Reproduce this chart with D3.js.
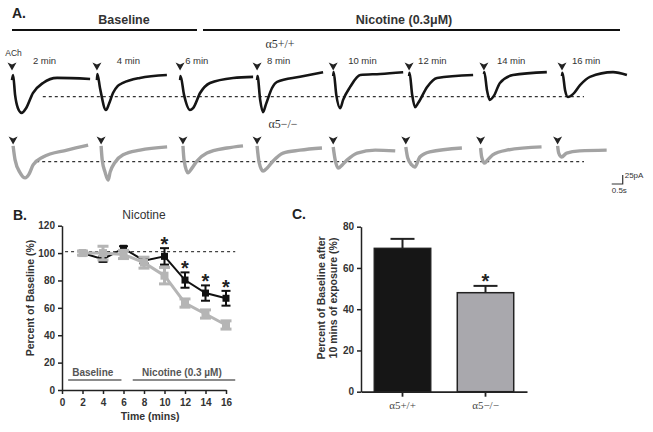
<!DOCTYPE html>
<html><head><meta charset="utf-8">
<script src="https://cdn.jsdelivr.net/npm/d3@7"></script>
<style>body{margin:0;background:#fff}svg{display:block}text{font-family:"Liberation Sans",Arial,sans-serif}</style>
</head><body>
<svg id="c" width="653" height="432"></svg>
<script>
// ---------- Panel A data (time in s relative to sweep start, current in pA) ----------
const sweepLabels = ["2 min","4 min","6 min","8 min","10 min","12 min","14 min","16 min"];
const sweepStartWT = [0, 3.86, 7.64, 11.14, 14.6, 18.05, 21.45, 25.0];
const sweepStartKO = [0.05, 4.05, 7.77, 11.14, 14.6, 17.9, 21.3, 24.8];
const wtTraces = [
  [[0,-3],[0.05,11],[0.14,-44],[0.27,-81],[0.44,-94],[0.64,-81],[0.95,-39],[1.41,-11],[2.05,3],[3.55,0]],
  [[0,-3],[0.02,14],[0.14,-25],[0.41,-86],[0.55,-69],[0.73,-39],[0.95,-19],[1.18,-11],[1.95,3],[3.18,11]],
  [[0,-3],[0.02,8],[0.18,-44],[0.45,-86],[0.59,-81],[0.91,-39],[1.36,-11],[2.41,3],[3.32,6]],
  [[0,-3],[0.02,8],[0.14,-58],[0.27,-92],[0.41,-69],[0.68,-25],[0.91,-8],[1.95,6],[3.0,19]],
  [[0,8],[0.02,19],[0.14,-44],[0.32,-81],[0.45,-58],[0.77,-22],[1.23,11],[2.14,14],[3.18,19]],
  [[0,8],[0.02,17],[0.14,-44],[0.27,-78],[0.41,-67],[0.82,-22],[1.27,3],[2.91,11]],
  [[0,14],[0.02,19],[0.14,-31],[0.27,-58],[0.45,-47],[0.73,-11],[1.32,11],[2.86,19]],
  [[0,8],[0.02,17],[0.14,-31],[0.27,-50],[0.5,-42],[0.82,-17],[1.27,6],[2.32,19],[2.95,11]]
];
const koTraces = [
  [[0,6],[0.09,-33],[0.32,-69],[0.55,-83],[0.73,-72],[0.91,-47],[1.36,-25],[2.45,-6],[3.41,8]],
  [[0,6],[0.05,-33],[0.18,-67],[0.32,-89],[0.41,-67],[0.64,-39],[1.0,-19],[1.77,-6],[3.0,3]],
  [[0,6],[0.05,-33],[0.23,-69],[0.41,-56],[0.64,-36],[1.09,-14],[2.0,0],[2.73,6]],
  [[0,6],[0.09,-39],[0.27,-64],[0.45,-56],[0.73,-36],[1.18,-14],[1.95,-6],[2.95,0]],
  [[0,3],[0.09,-33],[0.23,-56],[0.41,-47],[0.64,-33],[1.09,-14],[1.91,-6],[2.82,-8]],
  [[0,3],[0.09,-28],[0.27,-47],[0.41,-53],[0.64,-25],[1.09,-11],[2.55,0]],
  [[0,0],[0.05,-25],[0.18,-42],[0.32,-33],[0.55,-19],[1.18,-6],[2.77,3]],
  [[0,6],[0.05,-14],[0.18,-25],[0.41,-14],[1.0,-8],[2.23,-6]]
];
const wtRefLevel = -49;  // dotted reference (pA)
const koRefLevel = -38;

// ---------- Panel B data ----------
const timePoints = [2,4,6,8,10,12,14,16];
const wtMean = [100, 95.6, 103.5, 94.5, 97.6, 80.3, 70.8, 67];
const wtErr  = [1.5, 2, 1.5, 2, 6, 5.6, 5.6, 5.4];
const koMean = [100, 100, 99, 93, 83.5, 63.5, 55.5, 47.5];
const koErr  = [1.5, 5, 3, 4, 6, 3, 3, 3];
const sigPointsB = [10,12,14,16];
const xTicksB = [0,2,4,6,8,10,12,14,16];
const yTicksB = [0,20,40,60,80,100,120];

// ---------- Panel C data ----------
const groups = ["α5+/+","α5−/−"];
const barMean = [69.5, 48];
const barErr = [4.6, 3.3];
const yTicksC = [0,20,40,60,80];

const svg = d3.select("#c");
const ink = "#222";

// ================= Panel A =================
const xA = d3.scaleLinear().domain([0,28]).range([12, 628]);
const yTop = d3.scaleLinear().domain([0,-100]).range([79, 115]);
const yBot = d3.scaleLinear().domain([0,-100]).range([148, 184]);

svg.append("text").attr("x",12).attr("y",18).attr("font-size",14).attr("font-weight","bold").attr("fill",ink).text("A.");
svg.append("text").attr("x",124).attr("y",24).attr("text-anchor","middle").attr("font-size",12.5).attr("font-weight","bold").attr("fill","#333").text("Baseline");
svg.append("text").attr("x",404).attr("y",24).attr("text-anchor","middle").attr("font-size",12.5).attr("font-weight","bold").attr("fill","#333").text("Nicotine (0.3μM)");
svg.append("line").attr("x1",12).attr("x2",197).attr("y1",30).attr("y2",30).attr("stroke","#111").attr("stroke-width",2);
svg.append("line").attr("x1",203).attr("x2",620).attr("y1",30).attr("y2",30).attr("stroke","#111").attr("stroke-width",2);

svg.append("text").attr("x",280).attr("y",48).attr("text-anchor","middle").attr("font-size",12)
  .style("font-family","'Liberation Serif','Times New Roman',serif").attr("fill","#333").text("α5+/+");
svg.append("text").attr("x",283).attr("y",128).attr("text-anchor","middle").attr("font-size",12)
  .style("font-family","'Liberation Serif','Times New Roman',serif").attr("fill","#333").text("α5−/−");
svg.append("text").attr("x",13.5).attr("y",56).attr("text-anchor","middle").attr("font-size",8.5).attr("fill","#333").text("ACh");

const labelOffsets = [0.95, 0.9, 0.23, 0.45, 0.68, 0.41, 0.59, 0.45]; // s after sweep start where label begins
const arrowPath = "M-4.5,-4 L0,-2 L4.5,-4 L0,4 Z";

const traceLine = (start, yS) => d3.line()
  .x(d => xA(start + d[0])).y(d => yS(d[1])).curve(d3.curveMonotoneX);

// dotted reference lines
svg.append("line").attr("x1",xA(1.4)).attr("x2",xA(26.0)).attr("y1",yTop(wtRefLevel)).attr("y2",yTop(wtRefLevel))
  .attr("stroke","#333").attr("stroke-width",1.2).attr("stroke-dasharray","3,3");
svg.append("line").attr("x1",xA(1.1)).attr("x2",xA(26.0)).attr("y1",yBot(koRefLevel)).attr("y2",yBot(koRefLevel))
  .attr("stroke","#333").attr("stroke-width",1.2).attr("stroke-dasharray","3,3");

wtTraces.forEach((tr,i) => {
  svg.append("path").attr("d", traceLine(sweepStartWT[i], yTop)(tr))
    .attr("fill","none").attr("stroke","#151515").attr("stroke-width",2.6).attr("stroke-linejoin","round");
  svg.append("path").attr("d",arrowPath).attr("transform",`translate(${xA(sweepStartWT[i])},66.5)`).attr("fill","#222");
  svg.append("text").attr("x",xA(sweepStartWT[i]+labelOffsets[i])).attr("y",64).attr("font-size",9.5).attr("fill","#333").text(sweepLabels[i]);
});
koTraces.forEach((tr,i) => {
  svg.append("path").attr("d", traceLine(sweepStartKO[i], yBot)(tr))
    .attr("fill","none").attr("stroke","#a3a3a3").attr("stroke-width",3.4).attr("stroke-linejoin","round");
  svg.append("path").attr("d",arrowPath).attr("transform",`translate(${xA(sweepStartKO[i])},140.5)`).attr("fill","#222");
});

// scale bar: 0.5 s, 25 pA
const sbT = 27.26;
svg.append("path").attr("d",`M${xA(sbT)},${yBot(-100)} H${xA(sbT+0.5)} V${yBot(-75)}`)
  .attr("fill","none").attr("stroke","#333").attr("stroke-width",1.2);
svg.append("text").attr("x",xA(sbT+0.5)+2).attr("y",yBot(-84)).attr("font-size",8).attr("fill","#333").text("25pA");
svg.append("text").attr("x",xA(sbT)).attr("y",yBot(-100)+9).attr("font-size",8).attr("fill","#333").text("0.5s");

// ================= Panel B =================
const xB = d3.scaleLinear().domain([0,16]).range([62,226]);
const yB = d3.scaleLinear().domain([0,120]).range([390,225.7]);

svg.append("text").attr("x",13).attr("y",220).attr("font-size",14).attr("font-weight","bold").attr("fill",ink).text("B.");
svg.append("text").attr("x",144).attr("y",219).attr("text-anchor","middle").attr("font-size",12).attr("fill","#333").text("Nicotine");

const axB_y = svg.append("g").attr("transform",`translate(${xB(0)},0)`)
  .call(d3.axisLeft(yB).tickValues(yTicksB).tickSize(4).tickSizeOuter(0));
const axB_x = svg.append("g").attr("transform",`translate(0,${yB(0)})`)
  .call(d3.axisBottom(xB).tickValues(xTicksB).tickSize(4).tickSizeOuter(0));
[axB_y, axB_x].forEach(g => {
  g.selectAll("path,line").attr("stroke",ink).attr("stroke-width",1.5);
  g.selectAll("text").attr("font-size",10).attr("font-weight","bold").attr("fill","#333")
    .style("font-family","'Liberation Sans',Arial,sans-serif");
});
axB_x.selectAll("text").attr("dy","0.9em");

svg.append("text").attr("transform",`translate(34,298) rotate(-90)`).attr("text-anchor","middle")
  .attr("font-size",10.5).attr("font-weight","bold").attr("fill","#333").text("Percent of Baseline (%)");
svg.append("text").attr("x",xB(8.6)).attr("y",420).attr("text-anchor","middle")
  .attr("font-size",10.5).attr("font-weight","bold").attr("fill","#333").text("Time (mins)");

// dotted 100% line
svg.append("line").attr("x1",xB(0.3)).attr("x2",xB(16.9)).attr("y1",yB(101)).attr("y2",yB(101))
  .attr("stroke","#444").attr("stroke-width",1.3).attr("stroke-dasharray","3,3");

// baseline / nicotine bars
svg.append("line").attr("x1",xB(0.6)).attr("x2",xB(5.8)).attr("y1",yB(7.3)).attr("y2",yB(7.3)).attr("stroke","#666").attr("stroke-width",1.5);
svg.append("line").attr("x1",xB(6.9)).attr("x2",xB(16.9)).attr("y1",yB(7.3)).attr("y2",yB(7.3)).attr("stroke","#666").attr("stroke-width",1.5);
svg.append("text").attr("x",xB(3.0)).attr("y",yB(10.5)).attr("text-anchor","middle").attr("font-size",10)
  .attr("font-weight","bold").attr("fill","#555").text("Baseline");
svg.append("text").attr("x",xB(11.7)).attr("y",yB(10.5)).attr("text-anchor","middle").attr("font-size",10)
  .attr("font-weight","bold").attr("fill","#555").text("Nicotine (0.3 µM)");

function drawSeries(mean, err, color, lw, sq, cap) {
  const pts = timePoints.map((t,i)=>({t, m:mean[i], e:err[i]}));
  svg.append("path").attr("d", d3.line().x(d=>xB(d.t)).y(d=>yB(d.m))(pts))
    .attr("fill","none").attr("stroke",color).attr("stroke-width",lw);
  const g = svg.append("g");
  pts.forEach(d => {
    g.append("line").attr("x1",xB(d.t)).attr("x2",xB(d.t)).attr("y1",yB(d.m-d.e)).attr("y2",yB(d.m+d.e)).attr("stroke",color).attr("stroke-width",lw);
    [d.m-d.e, d.m+d.e].forEach(v => g.append("line").attr("x1",xB(d.t)-cap/2).attr("x2",xB(d.t)+cap/2)
      .attr("y1",yB(v)).attr("y2",yB(v)).attr("stroke",color).attr("stroke-width",lw));
    g.append("rect").attr("x",xB(d.t)-sq/2).attr("y",yB(d.m)-sq/2).attr("width",sq).attr("height",sq).attr("fill",color);
  });
}
drawSeries(wtMean, wtErr, "#111", 2, 7, 9);
drawSeries(koMean, koErr, "#b5b5b5", 3, 8, 11);

sigPointsB.forEach(t => {
  const i = timePoints.indexOf(t);
  svg.append("text").attr("x",xB(t)).attr("y",yB(wtMean[i]+wtErr[i])+3).attr("text-anchor","middle")
    .attr("font-size",20).attr("font-weight","bold").attr("fill","#222").text("*");
});

// ================= Panel C =================
const xC = d3.scaleBand().domain(groups).range([361,527]).paddingInner(0.32).paddingOuter(0.16);
const yC = d3.scaleLinear().domain([0,80]).range([391.7,226.7]);

svg.append("text").attr("x",292).attr("y",219).attr("font-size",14).attr("font-weight","bold").attr("fill",ink).text("C.");

const barFill = ["#161616","#a9a8ad"];
groups.forEach((g,i) => {
  const cx = xC(g) + xC.bandwidth()/2;
  svg.append("line").attr("x1",cx).attr("x2",cx).attr("y1",yC(barMean[i])).attr("y2",yC(barMean[i]+barErr[i])).attr("stroke",ink).attr("stroke-width",2);
  svg.append("line").attr("x1",cx-12).attr("x2",cx+12).attr("y1",yC(barMean[i]+barErr[i])).attr("y2",yC(barMean[i]+barErr[i])).attr("stroke",ink).attr("stroke-width",2);
  svg.append("rect").attr("x",xC(g)).attr("y",yC(barMean[i])).attr("width",xC.bandwidth()).attr("height",yC(0)-yC(barMean[i]))
    .attr("fill",barFill[i]).attr("stroke","#222").attr("stroke-width",1.5);
});
svg.append("text").attr("x",xC(groups[1])+xC.bandwidth()/2).attr("y",yC(barMean[1]+barErr[1])+2).attr("text-anchor","middle")
  .attr("font-size",20).attr("font-weight","bold").attr("fill","#222").text("*");

const axC_y = svg.append("g").attr("transform",`translate(361,0)`)
  .call(d3.axisLeft(yC).tickValues(yTicksC).tickSize(4).tickSizeOuter(0));
axC_y.selectAll("path,line").attr("stroke",ink).attr("stroke-width",1.5);
axC_y.selectAll("text").attr("font-size",10).attr("font-weight","bold").attr("fill","#333");
const axC_x = svg.append("g").attr("transform",`translate(0,${yC(0)})`)
  .call(d3.axisBottom(xC).tickSize(5).tickSizeOuter(0));
axC_x.selectAll("path,line").attr("stroke",ink).attr("stroke-width",1.8);
axC_x.selectAll("text").attr("font-size",11).attr("fill","#444").attr("dy","0.85em")
  .style("font-family","'Liberation Serif','Times New Roman',serif");

svg.append("text").attr("transform",`translate(325,298) rotate(-90)`).attr("text-anchor","middle")
  .attr("font-size",10.5).attr("font-weight","bold").attr("fill","#333").text("Percent of Baseline after");
svg.append("text").attr("transform",`translate(337,298) rotate(-90)`).attr("text-anchor","middle")
  .attr("font-size",10.5).attr("font-weight","bold").attr("fill","#333").text("10 mins of exposure (%)");
</script>
</body></html>
